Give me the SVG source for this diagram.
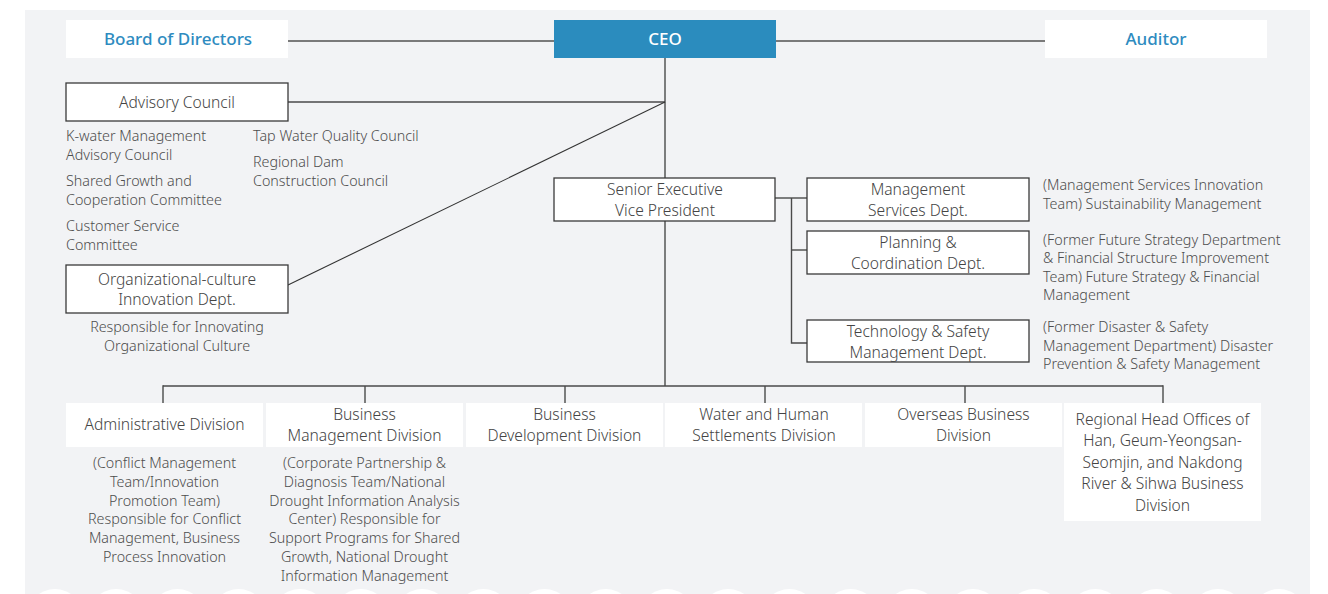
<svg xmlns="http://www.w3.org/2000/svg" width="1328" height="594" viewBox="0 0 1328 594">
  <style>
    .panel { fill: #f2f3f5; }
    .box { fill: #ffffff; stroke: #3a3a3a; stroke-width: 1.3; }
    .plain { fill: #ffffff; }
    .ceo { fill: #2b8cbe; }
    .t { font-family: "Noto Sans", "Open Sans", sans-serif; font-size: 15.6px; font-weight: 300; fill: #444444; }
    .d { font-family: "Noto Sans", "Open Sans", sans-serif; font-size: 14.3px; font-weight: 300; fill: #4d4d4d; }
    .head { font-family: "Noto Sans", "Open Sans", sans-serif; font-size: 17px; font-weight: 500; fill: #2e8bc0; }
    .headw { font-family: "Noto Sans", "Open Sans", sans-serif; font-size: 17px; font-weight: 500; fill: #ffffff; }
    .mid { text-anchor: middle; }
    .top { stroke: #7a7a7a; stroke-width: 2; fill: none; }
    .ln { stroke: #4a4a4a; stroke-width: 1.4; fill: none; }
    .thin { stroke: #333333; stroke-width: 1.1; fill: none; }
    .wave { fill: #ffffff; }
  </style>

  <!-- background panel with scalloped lower edge -->
  <rect class="panel" x="25" y="10" width="1285" height="584"/>
  <g id="scallops">
    <circle class="wave" cx="55" cy="617" r="28"/>
    <circle class="wave" cx="116.2" cy="617" r="28"/>
    <circle class="wave" cx="177.4" cy="617" r="28"/>
    <circle class="wave" cx="238.6" cy="617" r="28"/>
    <circle class="wave" cx="299.8" cy="617" r="28"/>
    <circle class="wave" cx="361" cy="617" r="28"/>
    <circle class="wave" cx="422.2" cy="617" r="28"/>
    <circle class="wave" cx="483.4" cy="617" r="28"/>
    <circle class="wave" cx="544.6" cy="617" r="28"/>
    <circle class="wave" cx="605.8" cy="617" r="28"/>
    <circle class="wave" cx="667" cy="617" r="28"/>
    <circle class="wave" cx="728.2" cy="617" r="28"/>
    <circle class="wave" cx="789.4" cy="617" r="28"/>
    <circle class="wave" cx="850.6" cy="617" r="28"/>
    <circle class="wave" cx="911.8" cy="617" r="28"/>
    <circle class="wave" cx="973" cy="617" r="28"/>
    <circle class="wave" cx="1034.2" cy="617" r="28"/>
    <circle class="wave" cx="1095.4" cy="617" r="28"/>
    <circle class="wave" cx="1156.6" cy="617" r="28"/>
    <circle class="wave" cx="1217.8" cy="617" r="28"/>
    <circle class="wave" cx="1279" cy="617" r="28"/>
  </g>

  <!-- connectors -->
  <g id="connectors">
    <line class="top" x1="288" y1="41" x2="554" y2="41"/>
    <line class="top" x1="776" y1="41" x2="1045" y2="41"/>
    <line class="ln" x1="665" y1="58" x2="665" y2="178"/>
    <line class="ln" x1="288" y1="102" x2="665" y2="102"/>
    <line class="thin" x1="288" y1="285" x2="665" y2="102"/>
    <line class="ln" x1="665" y1="221" x2="665" y2="386"/>
    <polyline class="ln" points="775,198 807,198"/>
    <polyline class="ln" points="807,343 791.5,343 791.5,198"/>
    <line class="ln" x1="791.5" y1="250" x2="807" y2="250"/>
    <line class="ln" x1="163" y1="386" x2="1163" y2="386"/>
    <line class="ln" x1="163" y1="385.3" x2="163" y2="403"/>
    <line class="ln" x1="365" y1="386" x2="365" y2="403"/>
    <line class="ln" x1="565" y1="386" x2="565" y2="403"/>
    <line class="ln" x1="765" y1="386" x2="765" y2="403"/>
    <line class="ln" x1="965" y1="386" x2="965" y2="403"/>
    <line class="ln" x1="1163" y1="385.3" x2="1163" y2="403"/>
  </g>

  <!-- top row -->
  <g id="board">
    <rect class="plain" x="66" y="20" width="222" height="38"/>
    <text class="head mid" x="178" y="45">Board of Directors</text>
  </g>
  <g id="ceo">
    <rect class="ceo" x="554" y="20" width="222" height="38"/>
    <text class="headw mid" x="665" y="45">CEO</text>
  </g>
  <g id="auditor">
    <rect class="plain" x="1045" y="20" width="222" height="38"/>
    <text class="head mid" x="1156" y="45">Auditor</text>
  </g>

  <!-- advisory council and committees -->
  <g id="advisory-council">
    <rect class="box" x="66" y="83" width="222" height="38"/>
    <text class="t mid" x="177" y="107.5">Advisory Council</text>
  </g>
  <g id="councils">
    <text class="d" x="66" y="141">K-water Management</text>
    <text class="d" x="66" y="160">Advisory Council</text>
    <text class="d" x="66" y="186">Shared Growth and</text>
    <text class="d" x="66" y="205">Cooperation Committee</text>
    <text class="d" x="66" y="231">Customer Service</text>
    <text class="d" x="66" y="250">Committee</text>
    <text class="d" x="253" y="141">Tap Water Quality Council</text>
    <text class="d" x="253" y="167">Regional Dam</text>
    <text class="d" x="253" y="186">Construction Council</text>
  </g>

  <g id="org-culture">
    <rect class="box" x="66" y="265" width="222" height="48"/>
    <text class="t mid" x="177" y="284.5">Organizational-culture</text>
    <text class="t mid" x="177" y="304.5">Innovation Dept.</text>
    <text class="d mid" x="177" y="332">Responsible for Innovating</text>
    <text class="d mid" x="177" y="350.5">Organizational Culture</text>
  </g>

  <!-- senior executive and staff departments -->
  <g id="sevp">
    <rect class="box" x="554" y="178" width="221" height="43"/>
    <text class="t mid" x="665" y="194.5">Senior Executive</text>
    <text class="t mid" x="665" y="215.5">Vice President</text>
  </g>
  <g id="management-services">
    <rect class="box" x="807" y="178" width="222" height="43"/>
    <text class="t mid" x="918" y="195">Management</text>
    <text class="t mid" x="918" y="216">Services Dept.</text>
    <text class="d" x="1043" y="190">(Management Services Innovation</text>
    <text class="d" x="1043" y="209">Team) Sustainability Management</text>
  </g>
  <g id="planning">
    <rect class="box" x="807" y="231" width="222" height="43"/>
    <text class="t mid" x="918" y="248">Planning &amp;</text>
    <text class="t mid" x="918" y="269">Coordination Dept.</text>
    <text class="d" x="1043" y="245">(Former Future Strategy Department</text>
    <text class="d" x="1043" y="263">&amp; Financial Structure Improvement</text>
    <text class="d" x="1043" y="281.5">Team) Future Strategy &amp; Financial</text>
    <text class="d" x="1043" y="300">Management</text>
  </g>
  <g id="tech-safety">
    <rect class="box" x="807" y="320" width="222" height="42"/>
    <text class="t mid" x="918" y="336.5">Technology &amp; Safety</text>
    <text class="t mid" x="918" y="357.5">Management Dept.</text>
    <text class="d" x="1043" y="332">(Former Disaster &amp; Safety</text>
    <text class="d" x="1043" y="350.5">Management Department) Disaster</text>
    <text class="d" x="1043" y="369">Prevention &amp; Safety Management</text>
  </g>

  <!-- divisions -->
  <g id="administrative">
    <rect class="plain" x="66" y="403" width="197" height="44"/>
    <text class="t mid" x="164.5" y="429.5">Administrative Division</text>
    <text class="d mid" x="164.5" y="468">(Conflict Management</text>
    <text class="d mid" x="164.5" y="487">Team/Innovation</text>
    <text class="d mid" x="164.5" y="505.5">Promotion Team)</text>
    <text class="d mid" x="164.5" y="524">Responsible for Conflict</text>
    <text class="d mid" x="164.5" y="543">Management, Business</text>
    <text class="d mid" x="164.5" y="562">Process Innovation</text>
  </g>
  <g id="business-management">
    <rect class="plain" x="266" y="403" width="197" height="44"/>
    <text class="t mid" x="364.5" y="420">Business</text>
    <text class="t mid" x="364.5" y="441">Management Division</text>
    <text class="d mid" x="364.5" y="468">(Corporate Partnership &amp;</text>
    <text class="d mid" x="364.5" y="487">Diagnosis Team/National</text>
    <text class="d mid" x="364.5" y="505.5">Drought Information Analysis</text>
    <text class="d mid" x="364.5" y="524">Center) Responsible for</text>
    <text class="d mid" x="364.5" y="543">Support Programs for Shared</text>
    <text class="d mid" x="364.5" y="562">Growth, National Drought</text>
    <text class="d mid" x="364.5" y="580.5">Information Management</text>
  </g>
  <g id="business-development">
    <rect class="plain" x="466" y="403" width="197" height="44"/>
    <text class="t mid" x="564.5" y="420">Business</text>
    <text class="t mid" x="564.5" y="441">Development Division</text>
  </g>
  <g id="water-settlements">
    <rect class="plain" x="665" y="403" width="197" height="44"/>
    <text class="t mid" x="764" y="420">Water and Human</text>
    <text class="t mid" x="764" y="441">Settlements Division</text>
  </g>
  <g id="overseas">
    <rect class="plain" x="865" y="403" width="197" height="44"/>
    <text class="t mid" x="963.5" y="420">Overseas Business</text>
    <text class="t mid" x="963.5" y="441">Division</text>
  </g>
  <g id="regional">
    <rect class="plain" x="1064" y="403" width="197" height="118"/>
    <text class="t mid" x="1162.5" y="424.5">Regional Head Offices of</text>
    <text class="t mid" x="1162.5" y="446">Han, Geum-Yeongsan-</text>
    <text class="t mid" x="1162.5" y="467.5">Seomjin, and Nakdong</text>
    <text class="t mid" x="1162.5" y="489">River &amp; Sihwa Business</text>
    <text class="t mid" x="1162.5" y="510.5">Division</text>
  </g>
</svg>
